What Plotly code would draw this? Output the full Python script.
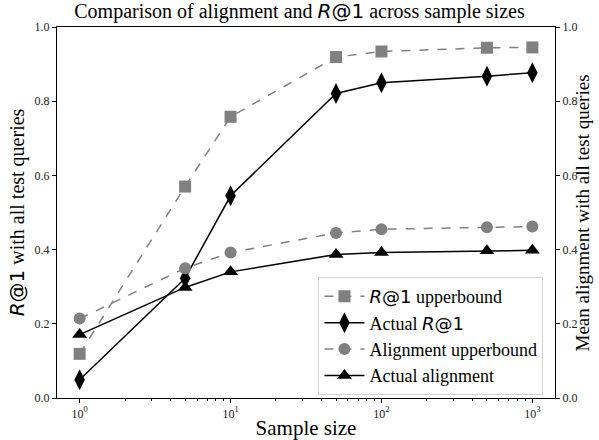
import plotly.graph_objects as go

sample_sizes = [1, 5, 10, 50, 100, 500, 1000]
r1_upper = [0.119, 0.57, 0.758, 0.919, 0.934, 0.944, 0.945]
r1_actual = [0.049, 0.323, 0.545, 0.821, 0.850, 0.867, 0.877]
align_upper = [0.214, 0.350, 0.392, 0.445, 0.455, 0.460, 0.462]
align_actual = [0.171, 0.298, 0.340, 0.387, 0.392, 0.397, 0.398]

x_tickvals = [1, 10, 100, 1000]
x_ticktext = ["10<sup>0</sup>", "10<sup>1</sup>", "10<sup>2</sup>", "10<sup>3</sup>"]
minor_vals = [m * 10 ** e for e in range(0, 4) for m in range(2, 10)]
y_ticks = [0.0, 0.2, 0.4, 0.6, 0.8, 1.0]

R1 = "<span style='font-family:DejaVu Sans'><i>R</i>@1</span>"
GREY = "#808080"
SERIF = "Liberation Serif"

fig = go.Figure()
fig.add_trace(go.Scatter(x=sample_sizes, y=r1_upper, name=R1 + " upperbound",
                         mode="lines+markers",
                         line=dict(color=GREY, width=1.5, dash="dash"),
                         marker=dict(symbol="square", size=12, color=GREY)))
fig.add_trace(go.Scatter(x=sample_sizes, y=r1_actual, name="Actual " + R1,
                         mode="lines+markers",
                         line=dict(color="black", width=1.5),
                         marker=dict(symbol="diamond-tall", size=15, color="black")))
fig.add_trace(go.Scatter(x=sample_sizes, y=align_upper, name="Alignment upperbound",
                         mode="lines+markers", yaxis="y2",
                         line=dict(color=GREY, width=1.5, dash="dash"),
                         marker=dict(symbol="circle", size=12, color=GREY)))
fig.add_trace(go.Scatter(x=sample_sizes, y=align_actual, name="Actual alignment",
                         mode="lines+markers", yaxis="y2",
                         line=dict(color="black", width=1.5),
                         marker=dict(symbol="triangle-up", size=13, color="black")))

axis_common = dict(showgrid=False, zeroline=False, showline=True, linecolor="black",
                   linewidth=1.2, ticks="outside", ticklen=4, tickcolor="black",
                   automargin=False,
                   tickfont=dict(family=SERIF, size=12, color="#222"))

fig.update_layout(
    width=599, height=440,
    margin=dict(l=57, r=44, t=27, b=42),
    paper_bgcolor="white", plot_bgcolor="white",
    font=dict(family=SERIF, color="black"),
    title=dict(text="Comparison of alignment and " + R1 + " across sample sizes",
               x=0.5, xanchor="center", y=0.992, yanchor="top",
               font=dict(family=SERIF, size=20)),
    xaxis=dict(type="log", range=[-0.15, 3.15], tickvals=x_tickvals, ticktext=x_ticktext,
               mirror=True,
               minor=dict(tickvals=minor_vals, ticks="outside", ticklen=2, tickcolor="black"),
               title=dict(text="Sample size", font=dict(family=SERIF, size=21), standoff=2),
               **axis_common),
    yaxis=dict(range=[0, 1], tickvals=y_ticks, tickformat=".1f",
               title=dict(text=R1 + " with all test queries", font=dict(family=SERIF, size=20),
                          standoff=4),
               **axis_common),
    yaxis2=dict(range=[0, 1], tickvals=y_ticks, tickformat=".1f", overlaying="y", side="right",
                **axis_common),
    annotations=[dict(text="Mean alignment with all test queries", xref="paper", yref="paper",
                      x=1.0562, y=0.5, xanchor="center", yanchor="middle", textangle=-90,
                      showarrow=False, font=dict(family=SERIF, size=19))],
    legend=dict(x=0.525, y=0.008, xanchor="left", yanchor="bottom",
                bgcolor="rgba(255,255,255,0.85)", bordercolor="#d0d0d0", borderwidth=1,
                font=dict(family=SERIF, size=18), tracegroupgap=0, itemwidth=40),
    showlegend=True,
)

fig.write_html("out.html", config={"displayModeBar": False},
               post_script="document.body.style.margin='0';document.body.style.padding='0';")
